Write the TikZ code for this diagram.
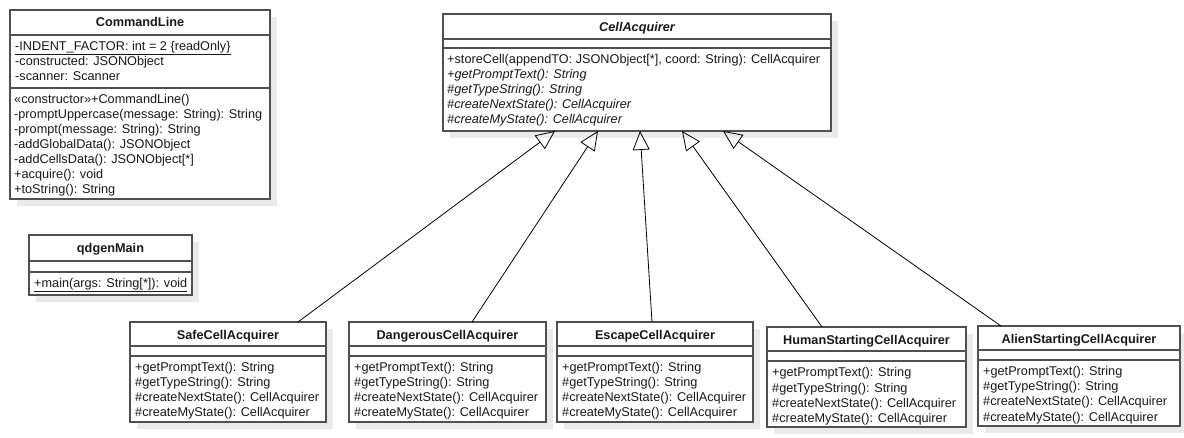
\documentclass[tikz,border=0pt]{standalone}
\usepackage{fontspec}
\setmainfont{Liberation Sans}
\usetikzlibrary{arrows.meta,calc}
\definecolor{boxline}{RGB}{80,80,80}
\definecolor{shade}{RGB}{234,234,234}
\definecolor{ink}{RGB}{25,25,25}
\tikzset{
  umlbox/.style={rectangle, draw=boxline, line width=1.3pt, fill=white, inner sep=0pt, outer sep=0pt, anchor=north west},
  umlshadow/.style={rectangle, fill=shade, draw=none, inner sep=0pt, outer sep=0pt, anchor=north west},
  divider/.style={draw=boxline, line width=1.3pt},
  member/.style={anchor=base west, inner sep=0pt, text=ink, font=\fontsize{12.7}{15}\selectfont},
  umltitle/.style={anchor=base, inner sep=0pt, text=ink, font=\fontsize{12.7}{15}\selectfont\bfseries},
  gen/.style={draw=black, line width=0.8pt, -{Triangle[open, length=19pt, width=17pt, line width=0.8pt]}},
}
% #1 name, #2 x, #3 y, #4 width, #5 height
\newcommand\umlclassbox[5]{%
  \node[umlshadow, minimum width=#4pt, minimum height=#5pt] (#1-sh) at (#2+7,#3+7) {};
  \node[umlbox, minimum width=#4pt, minimum height=#5pt] (#1) at (#2,#3) {};
}
\newcommand\umldiv[2]{%
  \draw[divider] ($(#1.north west)+(0,#2)$) -- ($(#1.north east)+(0,#2)$);
}
\begin{document}
\begin{tikzpicture}[x=1pt,y=-1pt]
\useasboundingbox (0,0) rectangle (1184,438);

% ---------------- CommandLine
\umlclassbox{cmd}{10}{10}{260}{189}
\umldiv{cmd}{25}
\umldiv{cmd}{78}
\node[umltitle] (cmd-t) at (140,26.5) {CommandLine};
\node[member] (cmd-a1) at (15,50.5) {\underline{-INDENT\_FACTOR: int = 2 \{readOnly\}}};
\node[member] (cmd-a2) at (15,65.5) {-constructed: JSONObject};
\node[member] (cmd-a3) at (15,80.5) {-scanner: Scanner};
\foreach [count=\i] \mline in {%
  {«constructor»+CommandLine()},
  {-promptUppercase(message: String): String},
  {-prompt(message: String): String},
  {-addGlobalData(): JSONObject},
  {-addCellsData(): JSONObject[*]},
  {+acquire(): void},
  {+toString(): String}}
  \node[member] (cmd-m\i) at (14,{103.5+15*(\i-1)}) {\mline};

% ---------------- qdgenMain
\umlclassbox{qmain}{29}{235}{163}{60}
\umldiv{qmain}{26}
\umldiv{qmain}{37}
\node[umltitle] (qmain-t) at (110.5,252.5) {qdgenMain};
\node[member] (qmain-m1) at (34,287.5) {\underline{+main(args: String[*]): void}};

% ---------------- CellAcquirer
\umlclassbox{cell}{443}{14}{388}{117}
\umldiv{cell}{25}
\umldiv{cell}{34}
\node[umltitle] (cell-t) at (637,31.5) {\itshape CellAcquirer};
\node[member] (cell-m1) at (447,63.5) {+storeCell(appendTO: JSONObject[*], coord: String): CellAcquirer};
\node[member] (cell-m2) at (447,78.5) {\itshape +getPromptText(): String};
\node[member] (cell-m3) at (447,93.5) {\itshape \#getTypeString(): String};
\node[member] (cell-m4) at (447,108.5) {\itshape \#createNextState(): CellAcquirer};
\node[member] (cell-m5) at (447,123.5) {\itshape \#createMyState(): CellAcquirer};

% ---------------- subclasses
\foreach \nm/\x/\y/\w/\ttl in {%
  safe/130/322/196/SafeCellAcquirer,
  dang/349/322/197/DangerousCellAcquirer,
  esc/557/322/196/EscapeCellAcquirer,
  human/767/327/199/HumanStartingCellAcquirer,
  alien/978/326/202/AlienStartingCellAcquirer}{
  \umlclassbox{\nm}{\x}{\y}{\w}{100}
  \umldiv{\nm}{24}
  \umldiv{\nm}{34}
  \node[umltitle] (\nm-t) at ({\x+\w/2},{\y+17.5}) {\ttl};
  \node[member] (\nm-m1) at ({\x+5},{\y+50}) {+getPromptText(): String};
  \node[member] (\nm-m2) at ({\x+5},{\y+65}) {\#getTypeString(): String};
  \node[member] (\nm-m3) at ({\x+5},{\y+80}) {\#createNextState(): CellAcquirer};
  \node[member] (\nm-m4) at ({\x+5},{\y+95}) {\#createMyState(): CellAcquirer};
}

% ---------------- generalizations
\draw[gen] ($(safe.north west)+(168,0)$) -- ($(cell.south west)+(112,0)$);
\draw[gen] ($(dang.north west)+(123,0)$) -- ($(cell.south west)+(155,0)$);
\draw[gen] ($(esc.north west)+(95,0)$) -- ($(cell.south west)+(197,0)$);
\draw[gen] ($(human.north west)+(55,0)$) -- ($(cell.south west)+(239,0)$);
\draw[gen] ($(alien.north west)+(23,0)$) -- ($(cell.south west)+(280,0)$);
\end{tikzpicture}
\end{document}
